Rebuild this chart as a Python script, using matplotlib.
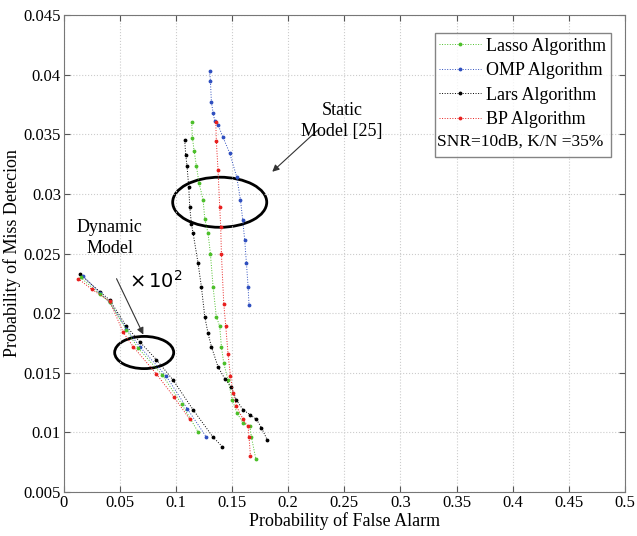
import matplotlib.pyplot as plt
from matplotlib.patches import Ellipse
from matplotlib.lines import Line2D

plt.rcParams['font.family'] = ['Liberation Serif', 'DejaVu Serif']

# static model curves
lasso_s_x = [0.1140, 0.1147, 0.1162, 0.1183, 0.1206, 0.1242, 0.1257, 0.1286, 0.1307, 0.1331,
             0.1360, 0.1390, 0.1405, 0.1426, 0.1464, 0.1503, 0.1545, 0.1598, 0.1658, 0.1673, 0.1711]
lasso_s_y = [0.0360, 0.0347, 0.0336, 0.0323, 0.0309, 0.0295, 0.0279, 0.0267, 0.0250, 0.0222,
             0.0197, 0.0189, 0.0172, 0.0158, 0.0144, 0.0127, 0.0116, 0.0108, 0.0105, 0.0096, 0.0078]

omp_s_x = [0.1300, 0.1307, 0.1316, 0.1331, 0.1346, 0.1375, 0.1417, 0.1480, 0.1542, 0.1575,
           0.1595, 0.1613, 0.1628, 0.1643, 0.1651]
omp_s_y = [0.0403, 0.0395, 0.0377, 0.0368, 0.0361, 0.0358, 0.0348, 0.0334, 0.0314, 0.0295,
           0.0278, 0.0261, 0.0242, 0.0222, 0.0207]

lars_s_x = [0.1078, 0.1087, 0.1099, 0.1114, 0.1123, 0.1138, 0.1153, 0.1197, 0.1227, 0.1257,
            0.1286, 0.1316, 0.1375, 0.1435, 0.1494, 0.1539, 0.1598, 0.1658, 0.1717, 0.1762, 0.1812]
lars_s_y = [0.0345, 0.0333, 0.0323, 0.0306, 0.0289, 0.0275, 0.0267, 0.0242, 0.0222, 0.0197,
            0.0183, 0.0172, 0.0155, 0.0145, 0.0138, 0.0127, 0.0119, 0.0115, 0.0111, 0.0104, 0.0094]

bp_s_x = [0.1355, 0.1360, 0.1375, 0.1390, 0.1399, 0.1405, 0.1426, 0.1444, 0.1464, 0.1486,
          0.1509, 0.1539, 0.1598, 0.1643, 0.1651, 0.1664]
bp_s_y = [0.0360, 0.0344, 0.0320, 0.0289, 0.0272, 0.0250, 0.0208, 0.0189, 0.0166, 0.0147,
          0.0133, 0.0122, 0.0111, 0.0105, 0.0096, 0.0080]

# dynamic model curves
lars_d_x = [0.0143, 0.0321, 0.0410, 0.0559, 0.0677, 0.0826, 0.0974, 0.1153, 0.1331, 0.1414]
lars_d_y = [0.0233, 0.0218, 0.0211, 0.0189, 0.0176, 0.0161, 0.0144, 0.0119, 0.0096, 0.0088]

omp_d_x = [0.0172, 0.0321, 0.0410, 0.0559, 0.0677, 0.0915, 0.1100, 0.1272]
omp_d_y = [0.0231, 0.0217, 0.0209, 0.0187, 0.0172, 0.0147, 0.0120, 0.0096]

lasso_d_x = [0.0150, 0.0321, 0.0410, 0.0559, 0.0660, 0.0880, 0.1050, 0.1200]
lasso_d_y = [0.0230, 0.0216, 0.0209, 0.0186, 0.0171, 0.0148, 0.0124, 0.0100]

bp_d_x = [0.0128, 0.0250, 0.0410, 0.0530, 0.0618, 0.0826, 0.0980, 0.1123]
bp_d_y = [0.0229, 0.0220, 0.0210, 0.0184, 0.0172, 0.0149, 0.0130, 0.0111]

green = '#4cbf2a'
blue = '#2f4fbf'
red = '#e8201f'
black = '#000000'

fig = plt.figure(figsize=(6.37, 5.36), dpi=100)
ax = fig.add_axes([0.100, 0.082, 0.881, 0.890])

style = dict(linestyle=':', linewidth=0.7, marker='.', markersize=3.5)
ax.plot(lasso_s_x, lasso_s_y, color=green, **style)
ax.plot(omp_s_x, omp_s_y, color=blue, **style)
ax.plot(lars_s_x, lars_s_y, color=black, **style)
ax.plot(bp_s_x, bp_s_y, color=red, **style)
ax.plot(lars_d_x, lars_d_y, color=black, **style)
ax.plot(omp_d_x, omp_d_y, color=blue, **style)
ax.plot(lasso_d_x, lasso_d_y, color=green, **style)
ax.plot(bp_d_x, bp_d_y, color=red, **style)

ax.set_xlim(0, 0.5)
ax.set_ylim(0.005, 0.045)
ax.set_xticks([0, 0.05, 0.1, 0.15, 0.2, 0.25, 0.3, 0.35, 0.4, 0.45, 0.5])
ax.set_xticklabels(['0', '0.05', '0.1', '0.15', '0.2', '0.25', '0.3', '0.35', '0.4', '0.45', '0.5'])
ax.set_yticks([0.005, 0.01, 0.015, 0.02, 0.025, 0.03, 0.035, 0.04, 0.045])
ax.set_yticklabels(['0.005', '0.01', '0.015', '0.02', '0.025', '0.03', '0.035', '0.04', '0.045'])
ax.tick_params(direction='in', top=True, right=True, labelsize=12, colors='#555555',
               labelcolor='black', length=4, pad=2)
ax.grid(True, linestyle=':', color='#cccccc', linewidth=0.8)
for s in ax.spines.values():
    s.set_color('#777777')
ax.set_xlabel('Probability of False Alarm', fontsize=13, labelpad=1)
ax.set_ylabel('Probability of Miss Detecion', fontsize=13, labelpad=2)

# ellipses and annotations
ax.add_patch(Ellipse((0.139, 0.0293), 0.0838, 0.0042, fill=False, linewidth=2, color='black'))
ax.add_patch(Ellipse((0.0717, 0.0167), 0.0526, 0.0027, fill=False, linewidth=2, color='black'))
ax.annotate('', xy=(0.184, 0.0317), xytext=(0.228, 0.0355),
            arrowprops=dict(arrowstyle='-|>', color='#333333', lw=0.8))
ax.text(0.248, 0.0361, 'Static\nModel [25]', fontsize=13, ha='center', va='center', linespacing=1.35)
ax.annotate('', xy=(0.072, 0.0180), xytext=(0.046, 0.0231),
            arrowprops=dict(arrowstyle='-|>', color='#333333', lw=0.8))
ax.text(0.041, 0.0263, 'Dynamic\nModel', fontsize=13, ha='center', va='center', linespacing=1.35)
ax.text(0.082, 0.0227, r'$\times\,10^2$', fontsize=14, ha='center', va='center')

handles = [Line2D([], [], color=green, **style),
           Line2D([], [], color=blue, **style),
           Line2D([], [], color=black, **style),
           Line2D([], [], color=red, **style),
           Line2D([], [], color='none')]
labels = ['Lasso Algorithm', 'OMP Algorithm', 'Lars Algorithm', 'BP Algorithm', ' ']
leg = ax.legend(handles, labels, loc='upper right', bbox_to_anchor=(0.975, 0.962), fontsize=13,
                frameon=True, fancybox=False, edgecolor='#666666', handlelength=2.3,
                handletextpad=0.3, borderpad=0.25, labelspacing=0.42, borderaxespad=0)
leg.get_frame().set_linewidth(1.0)
ax.text(0.665, 0.734, 'SNR=10dB, K/N =35%', transform=ax.transAxes, fontsize=12.5,
        ha='left', va='center', zorder=10)

fig.savefig('out.png', dpi=100)
